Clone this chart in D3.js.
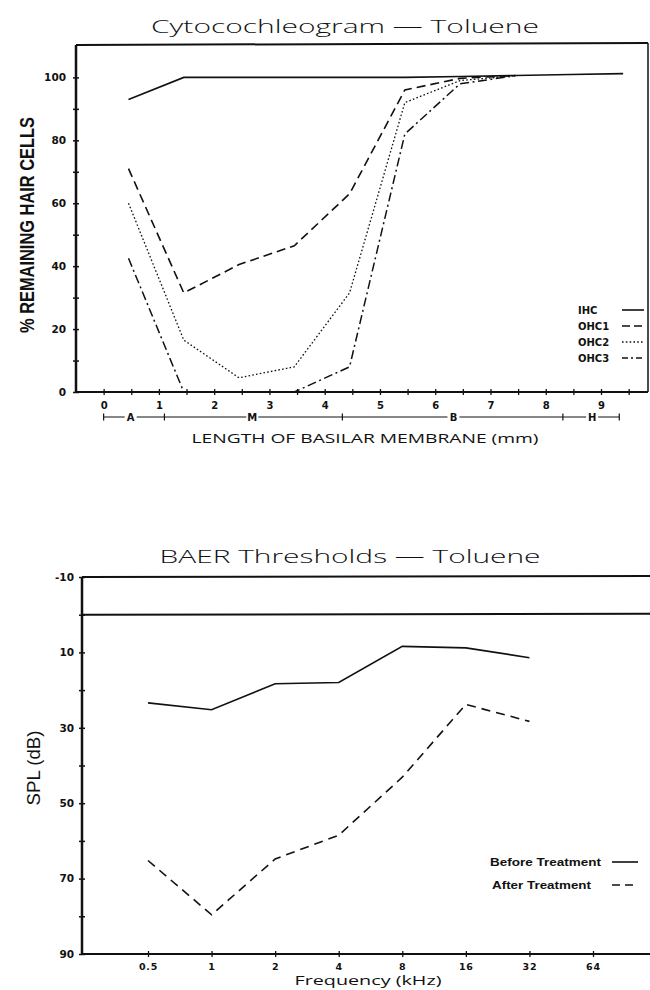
<!DOCTYPE html>
<html><head><meta charset="utf-8">
<script src="https://cdn.jsdelivr.net/npm/d3@7"></script>
<style>
html,body{margin:0;padding:0;background:#fff;}
svg{display:block;}
</style></head>
<body>
<svg id="chart" width="650" height="990"></svg>
<script>
// ---------- Data: Cytocochleogram ----------
const positionsMM = [0.45, 1.45, 2.45, 3.45, 4.45, 5.45, 6.45, 7.45, 8.45, 9.4];
const ihc  = [93, 100, 100, 100, 100, 100, 100.3, 100.6, 100.9, 101.2];
const ohc1 = [71, 31.5, 40.5, 46.5, 63, 96, 99.7, 100.6];
const ohc2 = [60, 16.5, 4.5, 8, 31.5, 92, 99, 100.5];
const ohc3 = [42.5, 0, 0, 0, 8, 82, 98, 100.5];
const cellSeries = ["IHC", "OHC1", "OHC2", "OHC3"];
const mmTicks = [0,0.5,1,1.5,2,2.5,3,3.5,4,4.5,5,5.5,6,6.5,7,7.5,8,8.5,9,9.5];
const mmLabels = [0,1,2,3,4,5,6,7,8,9];
const pctTicks = [0,10,20,30,40,50,60,70,80,90,100];
const pctLabels = [0,20,40,60,80,100];
const regionNames = ["A","M","B","H"];
const regionBounds = [0, 1.1, 4.32, 8.31, 9.33];
const regionLabelAt = [0.49, 2.69, 6.33, 8.84];

// ---------- Data: BAER thresholds ----------
const freqs = [0.5, 1, 2, 4, 8, 16, 32];
const freqLabels = ["0.5","1","2","4","8","16","32","64"];
const freqTickVals = [0.5,1,2,4,8,16,32,64];
const beforeTx = [23.4, 25.2, 18.3, 18.0, 8.4, 8.8, 11.4];
const afterTx  = [65.2, 79.6, 64.8, 58.5, 43.1, 23.8, 28.3];
const splTicks = [-10,0,10,20,30,40,50,60,70,80,90];
const splLabels = [-10,10,30,50,70,90];
const baerSeries = ["Before Treatment","After Treatment"];

const svg = d3.select("#chart");
const INK = "#111";
const tickFont = "'DejaVu Sans', sans-serif";
const lightFont = "'Open Sans', 'Liberation Sans', sans-serif";
const narrowFont = "'Liberation Sans Narrow', 'Arial Narrow', 'Liberation Sans', sans-serif";

// =============== TOP CHART =================
const T = {left:76, right:648, top:45, bottom:392};
const xT = d3.scaleLinear().domain([-0.5, 9.85]).range([T.left, T.right]);
const yT = d3.scaleLinear().domain([0, 110.3]).range([T.bottom, T.top]);

svg.append("text").attr("x",345).attr("y",33).attr("text-anchor","middle")
  .attr("font-family",lightFont).attr("font-weight",300).attr("font-size",19)
  .attr("textLength",388).attr("lengthAdjust","spacingAndGlyphs").attr("fill",INK)
  .text("Cytocochleogram  \u2014  Toluene");

// frame
const gT = svg.append("g");
gT.append("line").attr("x1",T.left).attr("x2",T.right).attr("y1",T.top).attr("y2",T.top-2).attr("stroke",INK).attr("stroke-width",2);
gT.append("line").attr("x1",T.right).attr("x2",T.right).attr("y1",T.top-2).attr("y2",T.bottom).attr("stroke",INK).attr("stroke-width",1.5);

// y axis
const yAxisT = d3.axisLeft(yT).tickValues(pctTicks).tickSize(3)
  .tickFormat(d => pctLabels.includes(d) ? d : "");
const yaT = gT.append("g").attr("transform",`translate(${T.left},0)`).call(yAxisT);
yaT.select(".domain").attr("d",`M0,${T.bottom}V${T.top}`).attr("stroke",INK).attr("stroke-width",2.5);
yaT.selectAll(".tick line").attr("x1",3).attr("x2",-3).attr("stroke",INK).attr("stroke-width",1.5);
yaT.selectAll(".tick text").attr("x",-10).attr("font-family",tickFont).attr("font-weight","bold").attr("font-size",10.5).attr("fill",INK);

// x axis
const xAxisT = d3.axisBottom(xT).tickValues(mmTicks).tickSize(3)
  .tickFormat(d => mmLabels.includes(d) ? d : "");
const xaT = gT.append("g").attr("transform",`translate(0,${T.bottom})`).call(xAxisT);
xaT.select(".domain").attr("d",`M${T.left},0H${T.right}`).attr("stroke",INK).attr("stroke-width",2.2);
xaT.selectAll(".tick line").attr("y1",-3).attr("y2",3).attr("stroke",INK).attr("stroke-width",1.3);
xaT.selectAll(".tick text").attr("y",10).attr("font-family",tickFont).attr("font-weight","bold").attr("font-size",10).attr("fill",INK);

// region bar
const RB = 417;
const gR = svg.append("g");
regionNames.forEach((nm,i)=>{
  const x0 = xT(regionBounds[i]), x1 = xT(regionBounds[i+1]), xl = xT(regionLabelAt[i]);
  gR.append("line").attr("x1",x0).attr("x2",xl-6).attr("y1",RB).attr("y2",RB).attr("stroke",INK).attr("stroke-width",1);
  gR.append("line").attr("x1",xl+6).attr("x2",x1).attr("y1",RB).attr("y2",RB).attr("stroke",INK).attr("stroke-width",1);
  gR.append("text").attr("x",xl).attr("y",RB+3.5).attr("text-anchor","middle")
    .attr("font-family",tickFont).attr("font-weight","bold").attr("font-size",10).attr("fill",INK).text(nm);
});
regionBounds.forEach(b=>{
  gR.append("line").attr("x1",xT(b)).attr("x2",xT(b)).attr("y1",RB-3.5).attr("y2",RB+3.5).attr("stroke",INK).attr("stroke-width",1.2);
});

svg.append("text").attr("x",365).attr("y",443).attr("text-anchor","middle")
  .attr("font-family",lightFont).attr("font-size",13).attr("textLength",347).attr("lengthAdjust","spacingAndGlyphs")
  .attr("fill",INK).text("LENGTH OF BASILAR MEMBRANE (mm)");

svg.append("text").attr("transform","translate(34,225) rotate(-90)").attr("text-anchor","middle")
  .attr("font-family",narrowFont).attr("font-weight","bold").attr("font-size",20)
  .attr("textLength",216).attr("lengthAdjust","spacingAndGlyphs").attr("fill",INK)
  .text("% REMAINING HAIR CELLS");

const cellData = [ihc, ohc1, ohc2, ohc3];
const cellDash = [null, "9,5", "1.6,2.2", "9,3.5,2,3.5"];
const cellWidth = [1.6, 1.6, 1.3, 1.5];
const lineT = d3.line().x(d=>xT(d[0])).y(d=>yT(d[1]));
cellData.forEach((vals,i)=>{
  const pts = vals.map((v,j)=>[positionsMM[j], v]);
  svg.append("path").attr("d",lineT(pts)).attr("fill","none").attr("stroke",INK)
    .attr("stroke-width",cellWidth[i]).attr("stroke-dasharray",cellDash[i]);
});

// legend top
const legY = [310, 326, 342, 358];
cellSeries.forEach((nm,i)=>{
  svg.append("text").attr("x",578).attr("y",legY[i]+4).attr("font-family",tickFont).attr("font-weight","bold")
    .attr("font-size",10).attr("fill",INK).text(nm);
  svg.append("line").attr("x1",622).attr("x2",644).attr("y1",legY[i]).attr("y2",legY[i])
    .attr("stroke",INK).attr("stroke-width",cellWidth[i]).attr("stroke-dasharray",
      i===1 ? "8,4" : i===2 ? "1.6,2.2" : i===3 ? "6,3,2,3" : null);
});

// =============== BOTTOM CHART =================
const B = {left:82, right:650, top:577, bottom:954};
const xB = d3.scaleLog().base(2).domain([0.5, 64]).range([148, 593]);
const yB = d3.scaleLinear().domain([-10, 90]).range([B.top, B.bottom]);

svg.append("text").attr("x",350).attr("y",563).attr("text-anchor","middle")
  .attr("font-family",lightFont).attr("font-weight",300).attr("font-size",19)
  .attr("textLength",381).attr("lengthAdjust","spacingAndGlyphs").attr("fill",INK)
  .text("BAER Thresholds  \u2014  Toluene");

const gB = svg.append("g");
gB.append("line").attr("x1",B.left).attr("x2",B.right).attr("y1",yB(-10)).attr("y2",yB(-10)-1).attr("stroke",INK).attr("stroke-width",2);
gB.append("line").attr("x1",B.left).attr("x2",B.right).attr("y1",yB(0)).attr("y2",yB(0)-1).attr("stroke",INK).attr("stroke-width",2);

const yAxisB = d3.axisLeft(yB).tickValues(splTicks).tickSize(3)
  .tickFormat(d => splLabels.includes(d) ? d : "");
const yaB = gB.append("g").attr("transform",`translate(${B.left},0)`).call(yAxisB);
yaB.select(".domain").attr("d",`M0,${B.top}V${B.bottom}`).attr("stroke",INK).attr("stroke-width",2.5);
yaB.selectAll(".tick line").attr("x1",3).attr("x2",-3).attr("stroke",INK).attr("stroke-width",1.5);
yaB.selectAll(".tick text").attr("x",-8).attr("font-family",tickFont).attr("font-weight","bold").attr("font-size",10.5).attr("fill",INK);

const xAxisB = d3.axisBottom(xB).tickValues(freqTickVals).tickSize(3)
  .tickFormat((d,i)=>freqLabels[i]);
const xaB = gB.append("g").attr("transform",`translate(0,${B.bottom})`).call(xAxisB);
xaB.select(".domain").attr("d",`M${B.left},0H${B.right}`).attr("stroke",INK).attr("stroke-width",2.2);
xaB.selectAll(".tick line").attr("y1",-3).attr("y2",3).attr("stroke",INK).attr("stroke-width",1.3);
xaB.selectAll(".tick text").attr("y",9).attr("font-family",tickFont).attr("font-weight","bold").attr("font-size",9.5)
  .attr("letter-spacing",0.8).attr("fill",INK);

svg.append("text").attr("x",368).attr("y",984.5).attr("text-anchor","middle")
  .attr("font-family",lightFont).attr("font-size",13).attr("textLength",147).attr("lengthAdjust","spacingAndGlyphs")
  .attr("fill",INK).text("Frequency (kHz)");

svg.append("text").attr("transform","translate(40,768) rotate(-90)").attr("text-anchor","middle")
  .attr("font-family","'Liberation Sans', sans-serif").attr("font-size",18)
  .attr("textLength",75).attr("lengthAdjust","spacingAndGlyphs").attr("fill",INK)
  .text("SPL (dB)");

const lineB = d3.line().x(d=>xB(d[0])).y(d=>yB(d[1]));
const baerData = [beforeTx, afterTx];
const baerDash = [null, "9,6"];
baerData.forEach((vals,i)=>{
  const pts = vals.map((v,j)=>[freqs[j], v]);
  svg.append("path").attr("d",lineB(pts)).attr("fill","none").attr("stroke",INK)
    .attr("stroke-width",1.6).attr("stroke-dasharray",baerDash[i]);
});

const legBY = [862, 885];
const legBLen = [111, 99];
baerSeries.forEach((nm,i)=>{
  svg.append("text").attr("x",i===0?490:492).attr("y",legBY[i]+4).attr("font-family",narrowFont).attr("font-weight","bold")
    .attr("font-size",11).attr("textLength",legBLen[i]).attr("lengthAdjust","spacingAndGlyphs").attr("fill",INK).text(nm);
  svg.append("line").attr("x1",612).attr("x2",638).attr("y1",legBY[i]).attr("y2",legBY[i])
    .attr("stroke",INK).attr("stroke-width",1.6).attr("stroke-dasharray",baerDash[i] ? "8,5" : null);
});
</script>
</body></html>
